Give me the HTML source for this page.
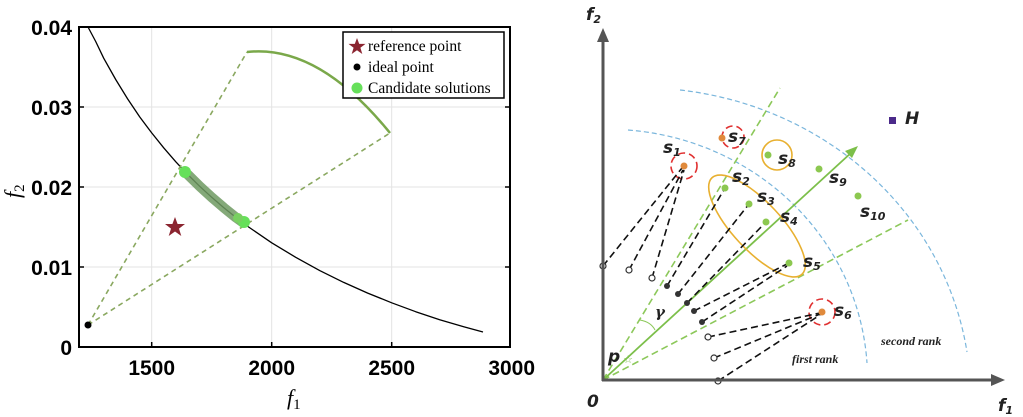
<!DOCTYPE html>
<html><head><meta charset="utf-8"><style>
html,body{margin:0;padding:0;background:#fff;}
svg{display:block;}
.tk{font-family:"Liberation Sans",sans-serif;font-weight:bold;font-size:21px;fill:#000;}
.lg{font-family:"Liberation Serif",serif;font-size:15.5px;fill:#000;}
.s{font-family:"DejaVu Sans","Liberation Sans",sans-serif;font-weight:bold;font-style:italic;font-size:17px;fill:#222;}
.sub{font-size:11px;}
</style></head><body>
<svg width="1023" height="417" viewBox="0 0 1023 417" xmlns="http://www.w3.org/2000/svg">
<rect width="1023" height="417" fill="#fff"/>
<g stroke="#e3e3e3" stroke-width="1">
<line x1="151.7" y1="27" x2="151.7" y2="347"/><line x1="271.7" y1="27" x2="271.7" y2="347"/><line x1="391.7" y1="27" x2="391.7" y2="347"/>
<line x1="79" y1="107" x2="510" y2="107"/><line x1="79" y1="187" x2="510" y2="187"/><line x1="79" y1="267" x2="510" y2="267"/>
</g>
<g stroke="#000" stroke-width="1.5">
<line x1="151.7" y1="347" x2="151.7" y2="342"/><line x1="271.7" y1="347" x2="271.7" y2="342"/><line x1="391.7" y1="347" x2="391.7" y2="342"/>
<line x1="79" y1="107" x2="84" y2="107"/><line x1="79" y1="187" x2="84" y2="187"/><line x1="79" y1="267" x2="84" y2="267"/>
<line x1="510" y1="107" x2="505" y2="107"/><line x1="510" y1="187" x2="505" y2="187"/><line x1="510" y1="267" x2="505" y2="267"/>
</g>
<polyline fill="none" stroke="#000" stroke-width="1.3" stroke-linejoin="round" points="88,27 95.7,41.5 103.7,58.2 115.7,79.5 127.7,99 139.7,116.9 151.7,132.9 163.7,147.8 175.7,161.7 187.7,174.5 199.7,186.3 211.7,197.3 223.7,207.6 235.7,217.3 247.7,226.4 271.7,242.8 295.7,257.3 319.7,270.6 343.7,282.4 367.7,293.1 391.7,302.8 415.7,311.7 439.7,319.8 463.7,326.8 483,332"/>
<g stroke="#8aa860" stroke-width="1.6" stroke-dasharray="5,4" fill="none">
<line x1="88" y1="325" x2="247" y2="52"/><line x1="88" y1="325" x2="390" y2="133"/>
</g>
<path d="M247,52 Q318,44 390,133" fill="none" stroke="#7aa84a" stroke-width="2.5"/>
<polyline fill="none" stroke="#6f9a62" stroke-opacity="0.85" stroke-width="10" stroke-linecap="round" stroke-linejoin="round" points="185,172 187.7,174.5 199.7,186.3 211.7,197.3 223.7,207.6 235.7,217.3 243,222.5"/>
<circle cx="185" cy="172" r="6" fill="#66e05a"/><circle cx="244" cy="222" r="6" fill="#66e05a"/><circle cx="238" cy="218" r="5" fill="#78d060"/>
<polygon fill="#8b2530" points="175,217 177.6,224 185,224 179,228.6 181.3,236 175,231.5 168.7,236 171,228.6 165,224 172.4,224"/>
<circle cx="88" cy="325" r="3.5" fill="#000"/>
<rect x="79" y="27" width="431" height="320" fill="none" stroke="#000" stroke-width="2"/>
<rect x="343" y="32" width="161" height="66" fill="#fff" stroke="#000" stroke-width="1.5"/>
<polygon fill="#8b2530" points="357,38 359.2,43.9 365.5,43.9 360.4,47.8 362.3,54 357,50.2 351.7,54 353.6,47.8 348.5,43.9 354.8,43.9"/>
<text class="lg" x="368" y="51">reference point</text>
<circle cx="357" cy="67" r="3.5" fill="#000"/>
<text class="lg" x="368" y="72">ideal point</text>
<circle cx="357" cy="88" r="5.5" fill="#66e05a"/>
<text class="lg" x="368" y="93">Candidate solutions</text>
<text class="tk" x="72" y="35" text-anchor="end">0.04</text>
<text class="tk" x="72" y="115" text-anchor="end">0.03</text>
<text class="tk" x="72" y="195" text-anchor="end">0.02</text>
<text class="tk" x="72" y="275" text-anchor="end">0.01</text>
<text class="tk" x="72" y="355" text-anchor="end">0</text>
<text class="tk" x="151.7" y="375" text-anchor="middle">1500</text>
<text class="tk" x="271.7" y="375" text-anchor="middle">2000</text>
<text class="tk" x="391.7" y="375" text-anchor="middle">2500</text>
<text class="tk" x="511.7" y="375" text-anchor="middle">3000</text>
<text x="287" y="405" font-family="Liberation Serif,serif" font-style="italic" font-size="22">f<tspan font-style="normal" font-size="15" dy="4">1</tspan></text>
<text transform="translate(20,198) rotate(-90)" font-family="Liberation Serif,serif" font-style="italic" font-size="22">f<tspan font-style="normal" font-size="15" dy="4">2</tspan></text>

<path d="M628,130 A260 250 0 0 1 867,363" fill="none" stroke="#7ab6dc" stroke-width="1.2" stroke-dasharray="5,3"/>
<path d="M680,90 A330 310 0 0 1 967,352" fill="none" stroke="#7ab6dc" stroke-width="1.2" stroke-dasharray="5,3"/>
<g stroke="#8cc85a" stroke-width="1.6" stroke-dasharray="7,4" fill="none">
<line x1="603" y1="380" x2="780" y2="88"/><line x1="603" y1="380" x2="908" y2="220"/>
</g>
<line x1="603" y1="380" x2="852" y2="152" stroke="#7cbf4a" stroke-width="1.8"/>
<polygon points="858,146 845,151 852,158" fill="#7cbf4a"/>
<path d="M640,320 Q651,322 655,330" fill="none" stroke="#8cc85a" stroke-width="1"/>
<ellipse cx="757" cy="226" rx="66" ry="24" transform="rotate(47 757 226)" fill="none" stroke="#e8b030" stroke-width="1.6"/>
<circle cx="777" cy="155" r="15" fill="none" stroke="#e8b030" stroke-width="1.6"/>
<g fill="none" stroke="#e03030" stroke-width="1.6" stroke-dasharray="7,4">
<circle cx="684" cy="166" r="13"/><circle cx="733" cy="137" r="11"/><circle cx="822" cy="312" r="13"/>
</g>
<g stroke="#111" stroke-width="1.6" stroke-dasharray="7,4" fill="none">
<line x1="603" y1="266" x2="682" y2="168"/><line x1="629" y1="270" x2="683" y2="170"/><line x1="652" y1="278" x2="684" y2="170"/>
<line x1="667" y1="286" x2="725" y2="188"/><line x1="678" y1="294" x2="749" y2="204"/><line x1="687" y1="303" x2="766" y2="222"/>
<line x1="694" y1="311" x2="787" y2="264"/><line x1="702" y1="322" x2="787" y2="266"/>
<line x1="708" y1="337" x2="820" y2="313"/><line x1="714" y1="358" x2="820" y2="314"/><line x1="718" y1="381" x2="820" y2="315"/>
</g>
<g fill="#333"><circle cx="667" cy="286" r="3"/><circle cx="678" cy="294" r="3"/><circle cx="687" cy="303" r="3"/><circle cx="694" cy="311" r="3"/><circle cx="702" cy="322" r="3"/></g>
<g fill="#fff" stroke="#333" stroke-width="1.2"><circle cx="603" cy="266" r="3"/><circle cx="629" cy="270" r="3"/><circle cx="652" cy="278" r="3"/><circle cx="708" cy="337" r="3"/><circle cx="714" cy="358" r="3"/><circle cx="718" cy="381" r="3"/></g>
<line x1="603" y1="381" x2="603" y2="40" stroke="#555" stroke-width="3"/>
<polygon points="603,28 597,42 609,42" fill="#555"/>
<line x1="602" y1="380" x2="993" y2="380" stroke="#555" stroke-width="3"/>
<polygon points="1005,380 991,374 991,386" fill="#555"/>
<g fill="#e08a3c"><circle cx="684" cy="166" r="3.5"/><circle cx="722" cy="138" r="3.5"/><circle cx="822" cy="312" r="3.5"/></g>
<g fill="#8cc850"><circle cx="768" cy="155" r="3.5"/><circle cx="819" cy="169" r="3.5"/><circle cx="858" cy="196" r="3.5"/><circle cx="725" cy="188" r="3.5"/><circle cx="749" cy="204" r="3.5"/><circle cx="766" cy="222" r="3.5"/><circle cx="789" cy="263" r="3.5"/></g>
<rect x="889" y="117" width="7" height="7" fill="#4b2a8a"/>
<text class="s" x="905" y="124">H</text>
<text x="628" y="360" font-family="DejaVu Sans,sans-serif" font-size="11" fill="#7cbf4a" text-anchor="middle" dominant-baseline="middle">☆</text>
<text class="s" x="663" y="153">s<tspan class="sub" dy="3">1</tspan></text>
<text class="s" x="728" y="142">s<tspan class="sub" dy="3">7</tspan></text>
<text class="s" x="778" y="164">s<tspan class="sub" dy="3">8</tspan></text>
<text class="s" x="829" y="183">s<tspan class="sub" dy="3">9</tspan></text>
<text class="s" x="860" y="217">s<tspan class="sub" dy="3">10</tspan></text>
<text class="s" x="732" y="182">s<tspan class="sub" dy="3">2</tspan></text>
<text class="s" x="757" y="202">s<tspan class="sub" dy="3">3</tspan></text>
<text class="s" x="780" y="222">s<tspan class="sub" dy="3">4</tspan></text>
<text class="s" x="803" y="267">s<tspan class="sub" dy="3">5</tspan></text>
<text class="s" x="834" y="316">s<tspan class="sub" dy="3">6</tspan></text>
<text class="s" x="608" y="362">p</text>
<text x="655" y="317" font-family="DejaVu Serif,serif" font-style="italic" font-weight="bold" font-size="15" fill="#222">γ</text>
<text x="792" y="363" font-family="Liberation Serif,serif" font-style="italic" font-weight="bold" font-size="12" fill="#222">first rank</text>
<text x="881" y="345" font-family="Liberation Serif,serif" font-style="italic" font-weight="bold" font-size="12" fill="#222">second rank</text>
<text class="s" x="587" y="407">0</text>
<text class="s" x="586" y="20">f<tspan class="sub" dy="3">2</tspan></text>
<text class="s" x="998" y="411">f<tspan class="sub" dy="3">1</tspan></text>
</svg>
</body></html>
